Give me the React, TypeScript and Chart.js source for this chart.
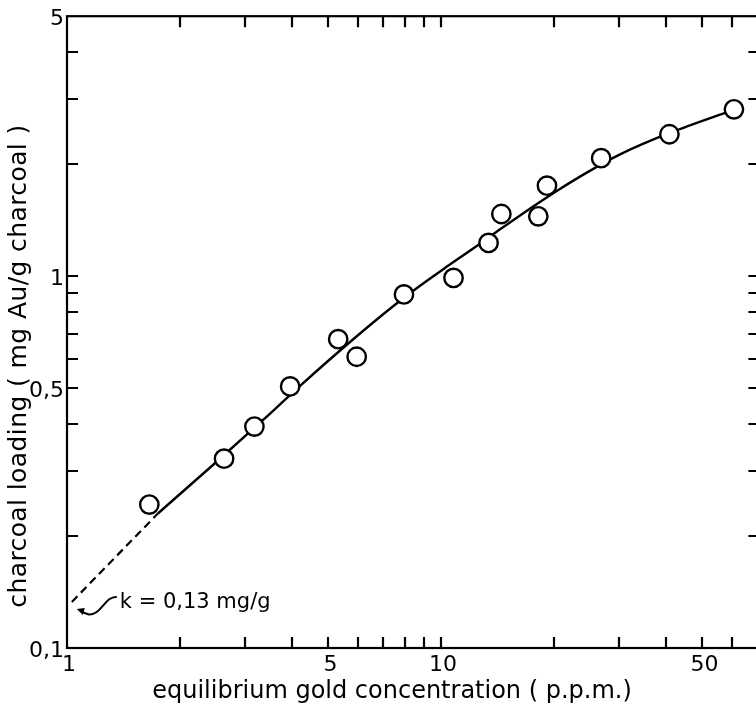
import React, { useEffect, useRef } from "react";
import { Chart, registerables } from "chart.js";

Chart.register(...registerables);

// Measured points (equilibrium gold concentration, ppm  ->  charcoal loading, mg Au/g)
const pointX = [1.66, 2.63, 3.17, 3.95, 5.31, 5.95, 7.96, 10.8, 13.4, 14.5, 18.2, 19.2, 26.8, 40.8, 60.7];
const pointY = [0.243, 0.323, 0.394, 0.505, 0.677, 0.607, 0.893, 0.989, 1.228, 1.469, 1.448, 1.751, 2.076, 2.407, 2.809];

// Fitted isotherm curve (solid)
const fitX = [1.75, 2.46, 3.35, 4.2, 5.71, 7.46, 8.52, 10.14, 12.46, 14.38, 16.6, 20.39, 24.53, 30.11, 41.0, 60.5];
const fitY = [0.23, 0.311, 0.411, 0.507, 0.665, 0.831, 0.921, 1.044, 1.205, 1.336, 1.477, 1.694, 1.898, 2.125, 2.43, 2.8];

// Extrapolation to 1 ppm (dashed)
const extrapX = [1.03, 1.75];
const extrapY = [0.133, 0.23];

const xMin = 1;
const xMax = 71;
const yMin = 0.1;
const yMax = 5;

const xTickValues = [1, 2, 3, 4, 5, 6, 7, 8, 9, 10, 20, 30, 40, 50, 60];
const xTickLabels: Record<string, string> = { "1": "1", "5": "5", "10": "10", "50": "50" };
const yTickValues = [0.1, 0.2, 0.3, 0.4, 0.5, 0.6, 0.7, 0.8, 0.9, 1, 2, 3, 4, 5];
const yTickLabels: Record<string, string> = { "0.1": "0,1", "0.5": "0,5", "1": "1", "5": "5" };

const xTitle = "equilibrium gold concentration ( p.p.m.)";
const yTitle = "charcoal loading ( mg Au/g charcoal )";
const kLabel = "k = 0,13 mg/g";
const kAnchorX = 1.03;
const kAnchorY = 0.133;

const FONT = "'DejaVu Sans', sans-serif";
const CANVAS_W = 771;
const CANVAS_H = 707;

const framePlugin = {
  id: "frameAndText",
  beforeDraw(chart: any) {
    const { ctx, width, height } = chart;
    ctx.save();
    ctx.fillStyle = "#ffffff";
    ctx.fillRect(0, 0, width, height);
    ctx.restore();
  },
  afterDraw(chart: any) {
    const { ctx, chartArea: a, scales } = chart;
    const xs = scales.x;
    const ys = scales.y;
    ctx.save();
    ctx.strokeStyle = "#000";
    ctx.fillStyle = "#000";
    ctx.lineWidth = 2.2;
    ctx.strokeRect(a.left, a.top, a.right - a.left, a.bottom - a.top);
    const tl = 11;
    ctx.beginPath();
    for (const v of xTickValues) {
      if (v <= xMin || v >= xMax) continue;
      const px = Math.round(xs.getPixelForValue(v));
      ctx.moveTo(px, a.bottom);
      ctx.lineTo(px, a.bottom - tl);
      ctx.moveTo(px, a.top);
      ctx.lineTo(px, a.top + tl);
    }
    for (const v of yTickValues) {
      if (v <= yMin || v >= yMax) continue;
      const py = Math.round(ys.getPixelForValue(v));
      ctx.moveTo(a.left, py);
      ctx.lineTo(a.left + tl, py);
      ctx.moveTo(a.right, py);
      ctx.lineTo(a.right - tl, py);
    }
    ctx.stroke();

    // x axis title
    ctx.font = `24px ${FONT}`;
    ctx.textAlign = "center";
    ctx.textBaseline = "alphabetic";
    ctx.fillText(xTitle, 392, 698);

    // y axis title
    ctx.save();
    ctx.font = `25px ${FONT}`;
    (ctx as any).letterSpacing = "0.4px";
    ctx.translate(26, 366);
    ctx.rotate(-Math.PI / 2);
    ctx.textAlign = "center";
    ctx.fillText(yTitle, 0, 0);
    ctx.restore();

    // k annotation anchored on the extrapolated intercept
    const kx = xs.getPixelForValue(kAnchorX);
    const ky = ys.getPixelForValue(kAnchorY);
    ctx.font = `21px ${FONT}`;
    ctx.textAlign = "left";
    ctx.fillText(kLabel, kx + 48, ky + 6);
    ctx.beginPath();
    ctx.lineWidth = 2;
    ctx.moveTo(kx + 45, ky - 5);
    ctx.bezierCurveTo(kx + 33, ky - 6, kx + 30, ky + 13, kx + 17, ky + 12.5);
    ctx.lineTo(kx + 10, ky + 10);
    ctx.stroke();
    ctx.beginPath();
    ctx.moveTo(kx + 5, ky + 7);
    ctx.lineTo(kx + 13, ky + 6);
    ctx.lineTo(kx + 11, ky + 13);
    ctx.closePath();
    ctx.fill();
    ctx.restore();
  },
};

export default function App() {
  const ref = useRef<HTMLCanvasElement | null>(null);
  useEffect(() => {
    if (!ref.current) return;
    const chart = new Chart(ref.current, {
      type: "scatter",
      data: {
        datasets: [
          {
            label: "measured",
            data: pointX.map((x, i) => ({ x, y: pointY[i] })),
            showLine: false,
            pointRadius: 9.2,
            pointHoverRadius: 9.2,
            pointBorderWidth: 2.4,
            pointBackgroundColor: "#ffffff",
            pointBorderColor: "#000000",
          },
          {
            label: "fit",
            data: fitX.map((x, i) => ({ x, y: fitY[i] })),
            showLine: true,
            pointRadius: 0,
            borderColor: "#000000",
            borderWidth: 2.4,
            cubicInterpolationMode: "monotone",
            fill: false,
          },
          {
            label: "extrapolation",
            data: extrapX.map((x, i) => ({ x, y: extrapY[i] })),
            showLine: true,
            pointRadius: 0,
            borderColor: "#000000",
            borderWidth: 2.2,
            borderDash: [8, 5],
            fill: false,
          },
        ],
      },
      options: {
        animation: false,
        responsive: false,
        maintainAspectRatio: false,
        layout: { padding: { top: 15, right: 3, left: 0, bottom: 0 } },
        plugins: {
          legend: { display: false },
          tooltip: { enabled: false },
          title: { display: false },
        },
        scales: {
          x: {
            type: "logarithmic",
            position: "bottom",
            min: xMin,
            max: xMax,
            afterBuildTicks: (s: any) => {
              s.ticks = xTickValues.map((v) => ({ value: v }));
            },
            afterFit: (s: any) => {
              s.height = 59;
            },
            grid: { display: false, drawTicks: false },
            border: { display: false },
            ticks: {
              autoSkip: false,
              maxRotation: 0,
              minRotation: 0,
              padding: 4,
              labelOffset: 2,
              color: "#000",
              font: { family: FONT, size: 22 },
              callback: (v: any) => xTickLabels[String(v)] ?? "",
            },
          },
          y: {
            type: "logarithmic",
            position: "left",
            min: yMin,
            max: yMax,
            afterBuildTicks: (s: any) => {
              s.ticks = yTickValues.map((v) => ({ value: v }));
            },
            afterFit: (s: any) => {
              s.width = 67;
            },
            grid: { display: false, drawTicks: false },
            border: { display: false },
            ticks: {
              autoSkip: false,
              padding: 3,
              labelOffset: 3,
              color: "#000",
              font: { family: FONT, size: 22 },
              callback: (v: any) => yTickLabels[String(v)] ?? "",
            },
          },
        },
      },
      plugins: [framePlugin],
    });
    return () => chart.destroy();
  }, []);

  return (
    <div
      style={{
        position: "fixed",
        left: 0,
        top: 0,
        width: 756,
        height: 707,
        overflow: "hidden",
        background: "#fff",
      }}
    >
      <canvas
        ref={ref}
        width={CANVAS_W}
        height={CANVAS_H}
        style={{ display: "block", width: CANVAS_W, height: CANVAS_H }}
      />
    </div>
  );
}
